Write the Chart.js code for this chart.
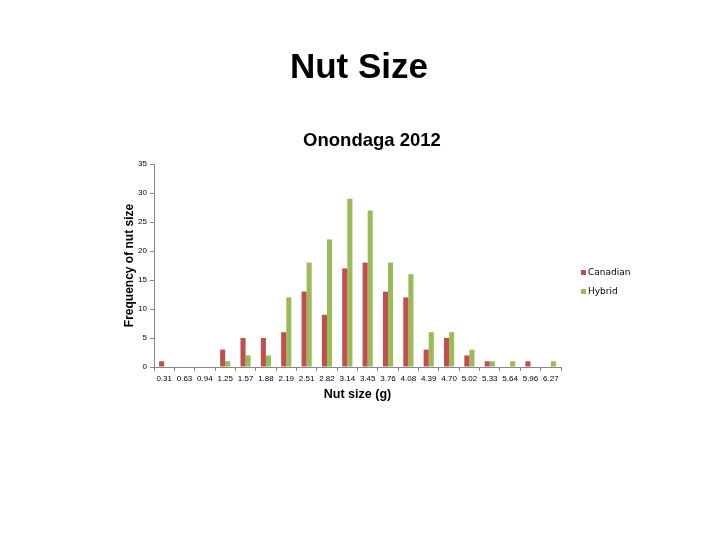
<!DOCTYPE html>
<html>
<head>
<meta charset="utf-8">
<script src="https://cdn.jsdelivr.net/npm/chart.js@4"></script>
<style>
  html, body { margin: 0; padding: 0; background: #fff; }
  #wrap { width: 720px; height: 540px; }
</style>
</head>
<body>
<div id="wrap"><canvas id="grafico" width="720" height="540"></canvas></div>
<script>
// datos
const tituloPrincipal = 'Nut Size';
const subtitulo = 'Onondaga 2012';
const categorias = ['0.31', '0.63', '0.94', '1.25', '1.57', '1.88', '2.19', '2.51', '2.82', '3.14',
                    '3.45', '3.76', '4.08', '4.39', '4.70', '5.02', '5.33', '5.64', '5.96', '6.27'];
const canadian = [1, 0, 0, 3, 5, 5, 6, 13, 9, 17, 18, 13, 12, 3, 5, 2, 1, 0, 1, 0];
const hybrid   = [0, 0, 0, 1, 2, 2, 12, 18, 22, 29, 27, 18, 16, 6, 6, 3, 1, 1, 0, 1];
const seriesNombres = ['Canadian', 'Hybrid'];
const ejeY = 'Frequency of nut size';
const ejeX = 'Nut size (g)';

const colores = ['#C0504D', '#9BBB59'];

// titulos y leyenda dibujados a mano
const textos = {
    id: 'textos',
    afterDraw(chart) {
        const ctx = chart.ctx;
        ctx.save();
        ctx.fillStyle = '#000';
        ctx.textAlign = 'center';
        ctx.textBaseline = 'middle';
        ctx.font = 'bold 35px "Liberation Sans", Arial, sans-serif';
        ctx.fillText(tituloPrincipal, 359, 68);
        ctx.font = 'bold 18.5px "Liberation Sans", Arial, sans-serif';
        ctx.fillText(subtitulo, 372, 141);

        ctx.textAlign = 'left';
        ctx.font = '9px "DejaVu Sans", sans-serif';
        chart.data.datasets.forEach((ds, i) => {
            const y = 273 + i * 19;
            ctx.fillStyle = ds.backgroundColor;
            ctx.fillRect(581, y - 3, 5, 5);
            ctx.fillStyle = '#000';
            ctx.fillText(ds.label, 588, y);
        });
        ctx.restore();
    }
};

new Chart(document.getElementById('grafico'), {
    type: 'bar',
    data: {
        labels: categorias,
        datasets: [
            { label: seriesNombres[0], data: canadian, backgroundColor: colores[0] },
            { label: seriesNombres[1], data: hybrid, backgroundColor: colores[1] }
        ]
    },
    options: {
        responsive: false,
        animation: false,
        layout: { padding: { left: 118, right: 159, top: 164, bottom: 134 } },
        datasets: { bar: { categoryPercentage: 0.5, barPercentage: 1.0 } },
        plugins: {
            legend: { display: false },
            title: { display: false },
            tooltip: { enabled: false }
        },
        scales: {
            x: {
                afterFit: s => { s.height = 39; },
                grid: { offset: true, drawOnChartArea: false, color: '#888', tickLength: 4 },
                border: { color: '#888' },
                ticks: { color: '#000', font: { size: 8, family: 'Liberation Sans' }, maxRotation: 0, autoSkip: false, padding: 3 },
                title: { display: true, text: ejeX, color: '#000', font: { size: 12.5, weight: 'bold', family: 'Liberation Sans' }, padding: { top: 5 } }
            },
            y: {
                min: 0,
                max: 35,
                afterFit: s => { s.width = 36; },
                grid: { drawOnChartArea: false, color: '#888', tickLength: 4 },
                border: { color: '#888' },
                ticks: { stepSize: 5, color: '#000', font: { size: 8, family: 'Liberation Sans' }, padding: 3 },
                title: { display: true, text: ejeY, color: '#000', font: { size: 12, weight: 'bold', family: 'Liberation Sans' }, padding: { top: 4, bottom: 2 } }
            }
        }
    },
    plugins: [textos]
});
</script>
</body>
</html>
